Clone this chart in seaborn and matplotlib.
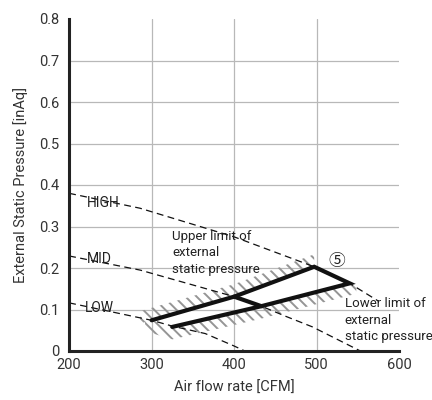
import numpy as np
import pandas as pd
import matplotlib
matplotlib.use("Agg")
import matplotlib.pyplot as plt
import seaborn as sns

# Fan curves (air flow [CFM], ESP [inAq])
high_cfm = [200, 286, 400, 497, 540, 575]
high_esp = [0.38, 0.344, 0.275, 0.203, 0.163, 0.12]
mid_cfm = [200, 286, 400, 433, 462, 495, 553]
mid_esp = [0.229, 0.195, 0.131, 0.108, 0.084, 0.058, 0.0]
low_cfm = [200, 300, 325, 365, 400, 413]
low_esp = [0.116, 0.074, 0.06, 0.042, 0.012, 0.0]

# Operating range outline (A-C-D-E-F-B-A) and the inner segment C-F
range_cfm = [300, 400, 497, 540, 433, 325, 300]
range_esp = [0.074, 0.131, 0.203, 0.163, 0.108, 0.058, 0.074]
inner_cfm = [400, 433]
inner_esp = [0.131, 0.108]

# Hatched limit bands
upper_cfm = [286, 300, 400, 497]
upper_esp = [0.066, 0.074, 0.131, 0.203]
lower_cfm = [292, 325, 433, 548]
lower_esp = [0.078, 0.058, 0.108, 0.168]
band = 0.03

curve_labels = ["HIGH", "MID", "LOW"]
label_pos = [(222, 0.357), (221, 0.221), (219, 0.103)]

sns.set_style("white")
plt.rcParams["font.family"] = ["Roboto", "Noto Sans CJK JP", "DejaVu Sans"]
plt.rcParams["hatch.linewidth"] = 1.4

fig = plt.figure(figsize=(4.32, 4.0), dpi=100)
ax = fig.add_axes([0.16, 0.1225, 0.764, 0.83])

# grid
for y in np.arange(0.1, 0.75, 0.1):
    ax.axhline(y, color="#b8b8b8", lw=0.9, zorder=0)
for x in [300, 400, 500]:
    ax.axvline(x, color="#b8b8b8", lw=0.9, zorder=0)

# hatched bands
ax.fill_between(upper_cfm, upper_esp, np.array(upper_esp) + band,
                facecolor="none", edgecolor="#959595", hatch="\\\\\\", lw=0, zorder=1)
ax.fill_between(lower_cfm, np.array(lower_esp) - band, lower_esp,
                facecolor="none", edgecolor="#959595", hatch="\\\\\\", lw=0, zorder=1)

# fan curves
curves = [(high_cfm, high_esp), (mid_cfm, mid_esp), (low_cfm, low_esp)]
for cfm, esp in curves:
    df = pd.DataFrame({"cfm": cfm, "esp": esp})
    sns.lineplot(data=df, x="cfm", y="esp", ax=ax, color="#111111", lw=0.9,
                 dashes=False, sort=False, linestyle=(0, (5.5, 3.5)), zorder=2)

# operating range
rng = pd.DataFrame({"cfm": range_cfm, "esp": range_esp})
sns.lineplot(data=rng, x="cfm", y="esp", ax=ax, color="#111111", lw=3.0,
             sort=False, zorder=3, solid_joinstyle="miter")
inner = pd.DataFrame({"cfm": inner_cfm, "esp": inner_esp})
sns.lineplot(data=inner, x="cfm", y="esp", ax=ax, color="#111111", lw=3.0,
             sort=False, zorder=3)

for lab, (x, y) in zip(curve_labels, label_pos):
    ax.text(x, y, lab, fontsize=10, ha="left", va="center", color="#222222", zorder=4)

ax.text(325, 0.292, "Upper limit of\nexternal\nstatic pressure", fontsize=9.5,
        ha="left", va="top", color="#222222", linespacing=1.35, zorder=4)
ax.text(534, 0.129, "Lower limit of\nexternal\nstatic pressure", fontsize=9.5,
        ha="left", va="top", color="#222222", linespacing=1.35, zorder=4)
ax.text(524, 0.215, "⑤", fontsize=12, ha="center", va="center", color="#222222",
        family=["Noto Sans CJK JP", "DejaVu Sans"], zorder=4)

ax.set_xlim(200, 600)
ax.set_ylim(0, 0.8)
ax.set_xticks([200, 300, 400, 500, 600])
ax.set_yticks(np.round(np.arange(0, 0.81, 0.1), 1))
ax.set_yticklabels(["0", "0.1", "0.2", "0.3", "0.4", "0.5", "0.6", "0.7", "0.8"])
ax.tick_params(direction="in", length=3, width=1.6, colors="#222222",
               labelsize=10.5, labelcolor="#333333")
ax.tick_params(axis="y", pad=7)
ax.tick_params(axis="x", pad=5)

for s in ["top", "right"]:
    ax.spines[s].set_visible(False)
for s in ["left", "bottom"]:
    ax.spines[s].set_linewidth(2.2)
    ax.spines[s].set_color("#222222")

ax.set_xlabel("Air flow rate [CFM]", fontsize=10.5, color="#333333", labelpad=6)
ax.set_ylabel("External Static Pressure [inAq]", fontsize=10.5, color="#333333", labelpad=8)

fig.savefig("out.png", dpi=100)
